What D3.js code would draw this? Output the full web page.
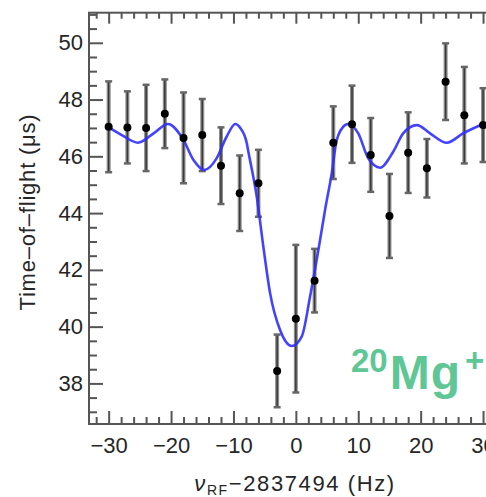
<!DOCTYPE html>
<html>
<head>
<meta charset="utf-8">
<script src="https://cdn.jsdelivr.net/npm/d3@7"></script>
<style>
  html, body { margin: 0; padding: 0; background: #fff; }
  svg { display: block; }
  text { font-family: "Liberation Sans", Arial, sans-serif; }
</style>
</head>
<body>
<svg id="chart" width="486" height="497"></svg>
<script>
// measured resonance: RF offset (Hz), mean time of flight (us), 1-sigma error
var freq = [-30, -27, -24, -21, -18, -15, -12, -9, -6, -3, 0, 3, 6, 9, 12, 15, 18, 21, 24, 27, 30];
var tof = [47.04, 47.02, 47.0, 47.5, 46.65, 46.75, 45.67, 44.7, 45.05, 38.44, 40.28,
           41.62, 46.48, 47.13, 46.05, 43.9, 46.13, 45.58, 48.63, 47.45, 47.1];
var tofErr = [1.6, 1.27, 1.52, 1.21, 1.6, 1.27, 1.35, 1.33, 1.18, 1.28, 2.6,
              1.12, 1.28, 1.36, 1.3, 1.48, 1.42, 1.03, 1.35, 1.7, 1.3];

var fitFreq = [-30.1, -27.9, -25.3, -22.8, -20.5, -18.0, -16.4, -14.7, -12.7, -11.1, -9.7, -8.9,
               -7.87, -7.66, -6.27, -5.21, -4.13, -2.53, -0.66, 0.94, 2.28, 3.88, 4.68, 5.75,
               6.55, 7.88, 8.4, 10.0, 11.6, 13.5, 15.6, 17.2, 19.4, 21.5, 24.2, 26.8, 29.9];
var fitTof = [47.04, 46.75, 46.48, 46.81, 47.14, 46.57, 45.87, 45.52, 45.93, 46.69, 47.14, 47.0,
              46.47, 46.22, 44.58, 42.82, 41.18, 39.88, 39.32, 39.65, 41.06, 43.05, 44.11, 45.4,
              46.57, 47.1, 47.14, 46.81, 45.93, 45.6, 46.16, 46.81, 47.1, 46.81, 46.48, 46.81, 47.13];

var xMajor = [-30, -20, -10, 0, 10, 20, 30];
var yMajor = [38, 40, 42, 44, 46, 48, 50];

var margin = { top: 12.7, left: 89 },
    plotW = 413.7,
    plotH = 411.3;

var svg = d3.select('#chart');
var g = svg.append('g')
    .attr('transform', 'translate(' + margin.left + ',' + margin.top + ')');

var x = d3.scaleLinear().domain([-33.15, 33.15]).range([0, plotW]);
var y = d3.scaleLinear().domain([36.57, 51.06]).range([plotH, 0]);

var xMinor = d3.range(-32, 33, 2).filter(function(v) { return v % 10 !== 0; });
var yMinor = d3.range(37, 51.01, 0.5).filter(function(v) { return v % 2 !== 0; });

function styleAxis(sel) {
    sel.select('.domain').remove();
    sel.selectAll('line').attr('stroke', '#555').attr('stroke-width', 2);
    sel.selectAll('text')
        .attr('fill', '#262626')
        .style('font-size', '22px');
}

// bottom
g.append('g').attr('transform', 'translate(0,' + plotH + ')')
    .call(d3.axisBottom(x).tickValues(xMajor).tickSize(-13).tickPadding(13))
    .call(styleAxis);
g.append('g').attr('transform', 'translate(0,' + plotH + ')')
    .call(d3.axisBottom(x).tickValues(xMinor).tickSize(-7).tickFormat(''))
    .call(styleAxis);

// top
g.append('g')
    .call(d3.axisTop(x).tickValues(xMajor).tickSize(-11).tickFormat(''))
    .call(styleAxis);
g.append('g')
    .call(d3.axisTop(x).tickValues(xMinor).tickSize(-6).tickFormat(''))
    .call(styleAxis);

// left
g.append('g')
    .call(d3.axisLeft(y).tickValues(yMajor).tickSize(-14).tickPadding(6))
    .call(styleAxis);
g.append('g')
    .call(d3.axisLeft(y).tickValues(yMinor).tickSize(-8).tickFormat(''))
    .call(styleAxis);

// frame
g.append('rect')
    .attr('width', plotW).attr('height', plotH)
    .attr('fill', 'none')
    .attr('stroke', '#555')
    .attr('stroke-width', 2);

// error bars
var bars = g.selectAll('.err').data(freq).enter().append('g').attr('class', 'err');
bars.append('line')
    .attr('x1', function(d) { return x(d); })
    .attr('x2', function(d) { return x(d); })
    .attr('y1', function(d, i) { return y(tof[i] - tofErr[i]); })
    .attr('y2', function(d, i) { return y(tof[i] + tofErr[i]); })
    .attr('stroke', '#8c8c8c').attr('stroke-width', 4);
bars.append('line')
    .attr('x1', function(d) { return x(d); })
    .attr('x2', function(d) { return x(d); })
    .attr('y1', function(d, i) { return y(tof[i] - tofErr[i]); })
    .attr('y2', function(d, i) { return y(tof[i] + tofErr[i]); })
    .attr('stroke', '#3a3a3a').attr('stroke-width', 1.5);
[-1, 1].forEach(function(s) {
    bars.append('line')
        .attr('x1', function(d) { return x(d) - 3.5; })
        .attr('x2', function(d) { return x(d) + 3.5; })
        .attr('y1', function(d, i) { return y(tof[i] + s * tofErr[i]); })
        .attr('y2', function(d, i) { return y(tof[i] + s * tofErr[i]); })
        .attr('stroke', '#666').attr('stroke-width', 2.5);
});

// fit
var fit = fitFreq.map(function(f, i) { return [f, fitTof[i]]; });
g.append('path')
    .datum(fit)
    .attr('fill', 'none')
    .attr('stroke', '#2f2fff')
    .attr('stroke-opacity', 0.9)
    .attr('stroke-width', 2.6)
    .attr('d', d3.line()
        .x(function(d) { return x(d[0]); })
        .y(function(d) { return y(d[1]); })
        .curve(d3.curveMonotoneX));

// data points
g.selectAll('.pt').data(freq).enter().append('circle')
    .attr('cx', function(d) { return x(d); })
    .attr('cy', function(d, i) { return y(tof[i]); })
    .attr('r', 4)
    .attr('fill', '#000');

// axis titles
svg.append('text')
    .attr('transform', 'translate(35,212) rotate(-90)')
    .attr('text-anchor', 'middle')
    .attr('fill', '#262626')
    .style('font-size', '22px')
    .style('letter-spacing', '0.8px')
    .text('Time–of–flight (μs)');

var xt = svg.append('text')
    .attr('x', 295).attr('y', 491)
    .attr('text-anchor', 'middle')
    .attr('fill', '#262626')
    .style('font-size', '22px')
    .style('letter-spacing', '1.6px');
xt.append('tspan').style('font-style', 'italic').text('ν');
xt.append('tspan').attr('dy', 4).style('font-size', '14px').text('RF');
xt.append('tspan').attr('dy', -4).text('−2837494 (Hz)');

// isotope label
var iso = svg.append('text')
    .attr('x', 351).attr('y', 389)
    .attr('fill', '#5ec795')
    .style('font-weight', 'bold')
    .style('font-size', '48px');
iso.append('tspan').attr('dy', -17).style('font-size', '33px').text('20');
iso.append('tspan').attr('dy', 17).attr('dx', 2).style('letter-spacing', '1px').text('Mg');
iso.append('tspan').attr('dy', -17).attr('dx', 4).style('font-size', '33px').text('+');
</script>
</body>
</html>
